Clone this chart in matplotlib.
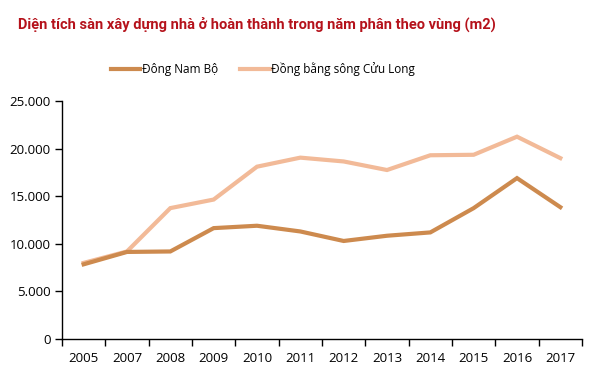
import matplotlib.pyplot as plt
from matplotlib.ticker import FuncFormatter, FixedLocator

plt.rcParams['font.family'] = ['Open Sans', 'DejaVu Sans']

years = ['2005', '2007', '2008', '2009', '2010', '2011',
         '2012', '2013', '2014', '2015', '2016', '2017']

dong_nam_bo = [7850, 9150, 9200, 11650, 11900, 11300,
               10300, 10850, 11200, 13750, 16900, 13850]
dbscl = [8000, 9200, 13750, 14650, 18100, 19050,
         18650, 17750, 19300, 19350, 21250, 19000]

DARK = '#CD8A4E'
LIGHT = '#F2BA98'

fig = plt.figure(figsize=(6, 3.81), dpi=100)
ax = fig.add_axes([0.1033, 0.110, 0.8667, 0.625])

x = list(range(len(years)))
ax.plot(x, dong_nam_bo, color=DARK, linewidth=3, label='Đông Nam Bộ',
        solid_joinstyle='miter', zorder=3)
ax.plot(x, dbscl, color=LIGHT, linewidth=3, label='Đồng bằng sông Cửu Long',
        solid_joinstyle='miter', zorder=2)

ax.set_xlim(-0.5, len(years) - 0.5)
ax.set_ylim(0, 25000)
ax.set_yticks(range(0, 25001, 5000))
ax.yaxis.set_major_formatter(FuncFormatter(lambda v, p: f'{int(v):,}'.replace(',', '.')))

ax.set_xticks(x)
ax.set_xticklabels(years)
ax.xaxis.set_minor_locator(FixedLocator([i - 0.5 for i in range(len(years) + 1)]))
ax.tick_params(axis='x', which='major', length=0, pad=9, labelsize=9.5)
ax.tick_params(axis='x', which='minor', length=5, width=1, direction='out')
ax.tick_params(axis='y', length=5, width=1, labelsize=9.5, pad=3)

for s in ['top', 'right']:
    ax.spines[s].set_visible(False)
ax.spines['left'].set_linewidth(1)
ax.spines['bottom'].set_linewidth(1)

fig.text(0.03, 0.935, 'Diện tích sàn xây dựng nhà ở hoàn thành trong năm phân theo vùng (m2)',
         color='#B5121B', fontsize=10.5, fontweight='bold', va='center', ha='left',
         family=['Roboto', 'DejaVu Sans'])

fig.legend(loc='center', bbox_to_anchor=(0.438, 0.818), ncol=2, frameon=False,
           fontsize=8.5, handlelength=2.5, handletextpad=0.1, columnspacing=1.9)

fig.savefig('out.png', dpi=100)
